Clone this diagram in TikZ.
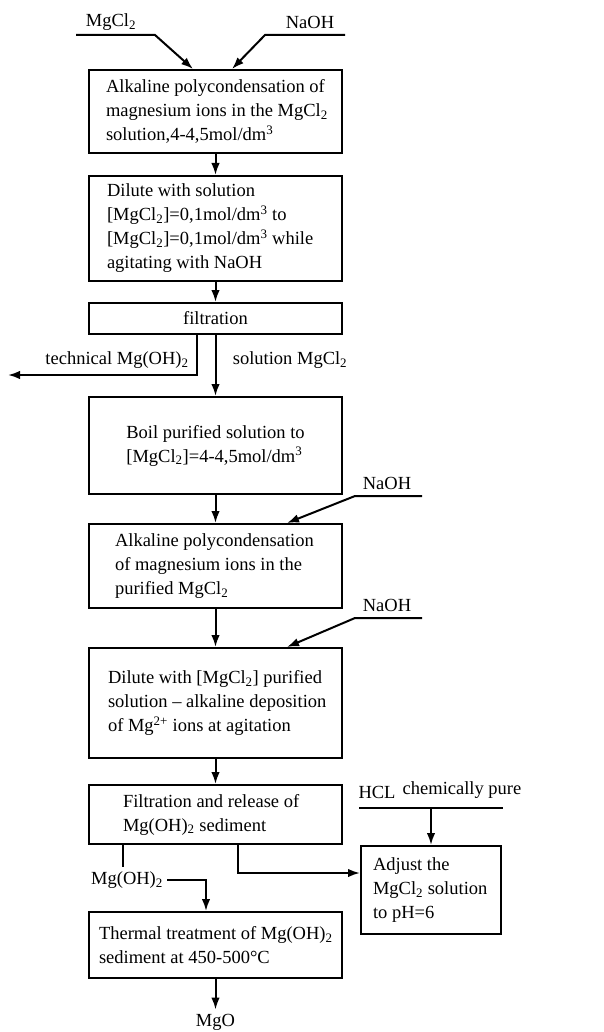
\documentclass[tikz,border=0pt]{standalone}
\usepackage{fontspec}
\setmainfont{Liberation Serif}
\usetikzlibrary{arrows.meta}
\newcommand{\mgcl}{MgCl\textsubscript{2}}
\newcommand{\mgoh}{Mg(OH)\textsubscript{2}}

\begin{document}
\begin{tikzpicture}[x=1pt, y=-1pt, line width=2pt,
        >={Latex[length=12pt,width=8.5pt]},
        every node/.style={font=\fontsize{18.5}{24}\selectfont},
        box/.style={draw, minimum width=253pt, inner sep=0pt},
        txt/.style={anchor=west, align=left, inner sep=0pt}]
        \useasboundingbox (0,0) rectangle (603,1032);
        % process boxes
        \node[box, minimum height=83pt]  (alk)   at (215.5,111.5) {};
        \node[box, minimum height=105pt] (dil)   at (215.5,228.5) {};
        \node[box, minimum height=31pt]  (filt)  at (215.5,318.5) {filtration};
        \node[box, minimum height=97pt, align=left] (boil) at (215.5,445.5)
            {Boil purified solution to\\ {[}\mgcl{]}=4-4,5mol/dm\textsuperscript{3}};
        \node[box, minimum height=84pt]  (pur)   at (215.5,566) {};
        \node[box, minimum height=110pt] (dep)   at (215.5,703) {};
        \node[box, minimum height=59pt]  (rel)   at (215.5,814.5) {};
        \node[box, minimum height=88pt, minimum width=140pt] (adj) at (431,890) {};
        \node[box, minimum height=66pt]  (therm) at (215.5,945) {};
        % box texts
        \node[txt] (alkT) at ([xshift=17pt]alk.west)
            {Alkaline polycondensation of\\ magnesium ions in the \mgcl\\ solution,4-4,5mol/dm\textsuperscript{3}};
        \node[txt] (dilT) at ([xshift=18pt]dil.west)
            {Dilute with solution\\ {[}\mgcl{]}=0,1mol/dm\textsuperscript{3} to\\ {[}\mgcl{]}=0,1mol/dm\textsuperscript{3} while\\ agitating with NaOH};
        \node[txt] (purT) at ([xshift=26pt]pur.west)
            {Alkaline polycondensation\\ of magnesium ions in the\\ purified \mgcl};
        \node[txt] (depT) at ([xshift=19pt]dep.west)
            {Dilute with {[}\mgcl{]} purified\\ solution -- alkaline deposition\\ of Mg\textsuperscript{2+} ions at agitation};
        \node[txt] (relT) at ([xshift=34pt]rel.west)
            {Filtration and release of\\ \mgoh{} sediment};
        \node[txt] (adjT) at ([xshift=12pt]adj.west)
            {Adjust the\\ \mgcl{} solution\\ to pH=6};
        \node[txt] (thermT) at ([xshift=10pt]therm.west)
            {Thermal treatment of \mgoh\\ sediment at 450-500°C};
        % stream labels
        \node (mgclIn) at (111,22)  {\mgcl};
        \node (naohIn) at (310,22)  {NaOH};
        \node (tech)   at (117,360) {technical \mgoh};
        \node (sol)    at (290,360) {solution \mgcl};
        \node (naoh2)  at (387,483) {NaOH};
        \node (naoh3)  at (387,605) {NaOH};
        \node (hcl)    at (377,792) {HCL};
        \node (pure)   at (462,790) {chemically pure};
        \node (mgoh)   at (127,880) {\mgoh};
        \node (mgo)    at (215.5,1022) {MgO};
        \coordinate (techOut) at (8,375);
        % connectors
        \draw[->] (76,35) coordinate (a1) -- (155,35) -- ([xshift=-22.5pt]alk.north);
        \draw[->] (345,35) coordinate (a2) -- (265,35) -- ([xshift=16.5pt]alk.north);
        \draw[->] (alk) -- (dil);
        \draw[->] (dil) -- (filt);
        \draw[->] (filt) -- (boil);
        \draw[->] ([xshift=-18.5pt]filt.south) |- (techOut);
        \draw[->] (boil) -- (pur);
        \draw[->] (422,496) coordinate (b1) -- (355,496) -- ([xshift=71.5pt]pur.north);
        \draw[->] (pur) -- (dep);
        \draw[->] (422,618) coordinate (b2) -- (355,618) -- ([xshift=71.5pt]dep.north);
        \draw[->] (dep) -- (rel);
        \draw (359,808) coordinate (h1) -- (503,808) coordinate (h2);
        \draw[->] (adj.north |- h1) -- (adj.north);
        \draw[->] ([xshift=22.5pt]rel.south) |- ([yshift=17pt]adj.west);
        \draw ([xshift=-92.5pt]rel.south) -- ([xshift=-4pt]mgoh.north);
        \draw[->] (mgoh.east) -| ([xshift=-9.5pt]therm.north);
        \draw[->] (therm) -- (mgo);
    \end{tikzpicture}
\end{document}
